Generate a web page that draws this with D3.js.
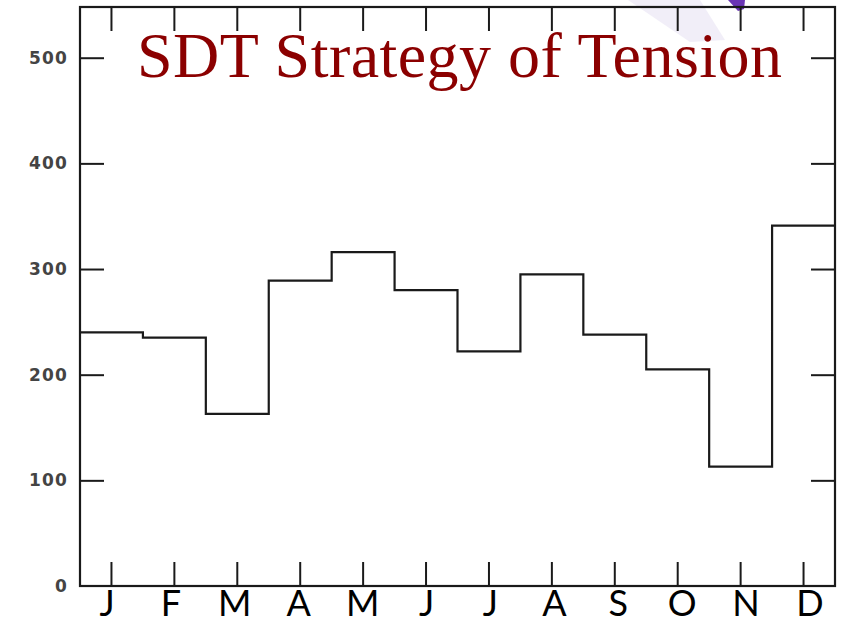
<!DOCTYPE html>
<html>
<head>
<meta charset="utf-8">
<script src="https://cdn.jsdelivr.net/npm/d3@7"></script>
<style>
	body { margin: 0; background: #fff; }
	svg { display: block; }
</style>
</head>
<body>
<div id="chart"></div>
<script>
// monthly values
var months = ['J', 'F', 'M', 'A', 'M', 'J', 'J', 'A', 'S', 'O', 'N', 'D'];
var counts = [240, 235, 163, 289, 316, 280, 222, 295, 238, 205, 113, 341];
var yTicks = [0, 100, 200, 300, 400, 500];
var title = 'SDT Strategy of Tension';

var width = 845;
var height = 627;
var margin = {top: 7, right: 10, bottom: 41, left: 80};
var tickLen = 24;

var svg = d3
	.select('#chart')
	.append('svg')
	.attr('width', width)
	.attr('height', height);

var x = d3
	.scaleBand()
	.domain(d3.range(months.length))
	.range([margin.left, width - margin.right])
	.padding(0);

// the month letters were typed under the scan, slightly off the ticks
var xLabel = d3
	.scalePoint()
	.domain(d3.range(months.length))
	.range([107, 810]);

var y = d3
	.scaleLinear()
	.domain([0, 548])
	.range([height - margin.bottom, margin.top]);

// faint watermark bits peeking over the frame
svg.append('path')
	.attr('d', 'M628,0 L700,0 L725,40 L690,42 Z')
	.attr('fill', '#e8e2f3')
	.attr('opacity', 0.6);
svg.append('path')
	.attr('d', 'M728,0 L745,0 L744,9 L738,11 Z')
	.attr('fill', '#6a35b5');

var x0 = x.range()[0], x1 = x.range()[1];
var y0 = y.range()[0], y1 = y.range()[1];

// frame ticks, all pointing inward
svg.append('g')
	.attr('transform', 'translate(0,' + y0 + ')')
	.call(d3.axisBottom(x).tickSize(-tickLen).tickFormat('').tickSizeOuter(0))
	.call(function(g){ g.select('.domain').remove(); });

svg.append('g')
	.attr('transform', 'translate(0,' + y1 + ')')
	.call(d3.axisTop(x).tickSize(-tickLen).tickFormat('').tickSizeOuter(0))
	.call(function(g){ g.select('.domain').remove(); });

svg.append('g')
	.attr('transform', 'translate(' + x0 + ',0)')
	.call(d3.axisLeft(y).tickValues(yTicks.slice(1)).tickSize(-tickLen).tickFormat('').tickSizeOuter(0))
	.call(function(g){ g.select('.domain').remove(); });

svg.append('g')
	.attr('transform', 'translate(' + x1 + ',0)')
	.call(d3.axisRight(y).tickValues(yTicks.slice(1)).tickSize(-tickLen).tickFormat('').tickSizeOuter(0))
	.call(function(g){ g.select('.domain').remove(); });

svg.selectAll('.tick line')
	.attr('stroke', '#1a1a1a')
	.attr('stroke-width', 2);

// y labels
svg.append('g')
	.selectAll('text')
	.data(yTicks)
	.enter()
	.append('text')
	.attr('x', 68)
	.attr('y', function(d){ return y(d); })
	.attr('dy', '0.36em')
	.attr('text-anchor', 'end')
	.attr('font-family', 'DejaVu Sans, sans-serif')
	.attr('font-weight', 'bold')
	.attr('font-size', 17)
	.attr('letter-spacing', 1.2)
	.attr('fill', '#444')
	.text(function(d){ return d; });

// the step line
var pts = counts.map(function(v, i){ return [x(i), v]; });
pts.push([x1, counts[counts.length - 1]]);

var line = d3
	.line()
	.x(function(d){ return d[0]; })
	.y(function(d){ return y(d[1]); })
	.curve(d3.curveStepAfter);

svg.append('path')
	.datum(pts)
	.attr('d', line)
	.attr('fill', 'none')
	.attr('stroke', '#1a1a1a')
	.attr('stroke-width', 2.2);

// frame
svg.append('rect')
	.attr('x', x0)
	.attr('y', y1)
	.attr('width', x1 - x0)
	.attr('height', y0 - y1)
	.attr('fill', 'none')
	.attr('stroke', '#1a1a1a')
	.attr('stroke-width', 2.2);

// month letters
svg.append('g')
	.selectAll('text')
	.data(months)
	.enter()
	.append('text')
	.attr('x', function(d, i){ return xLabel(i); })
	.attr('y', 616)
	.attr('text-anchor', 'middle')
	.attr('font-family', 'Lato, sans-serif')
	.attr('font-size', 36)
	.attr('fill', '#000')
	.text(function(d){ return d; });

// title
svg.append('text')
	.attr('x', 137)
	.attr('y', 77)
	.attr('font-family', 'Liberation Serif, serif')
	.attr('font-size', 64)
	.attr('textLength', 645)
	.attr('lengthAdjust', 'spacing')
	.attr('fill', '#8b0000')
	.text(title);
</script>
</body>
</html>
